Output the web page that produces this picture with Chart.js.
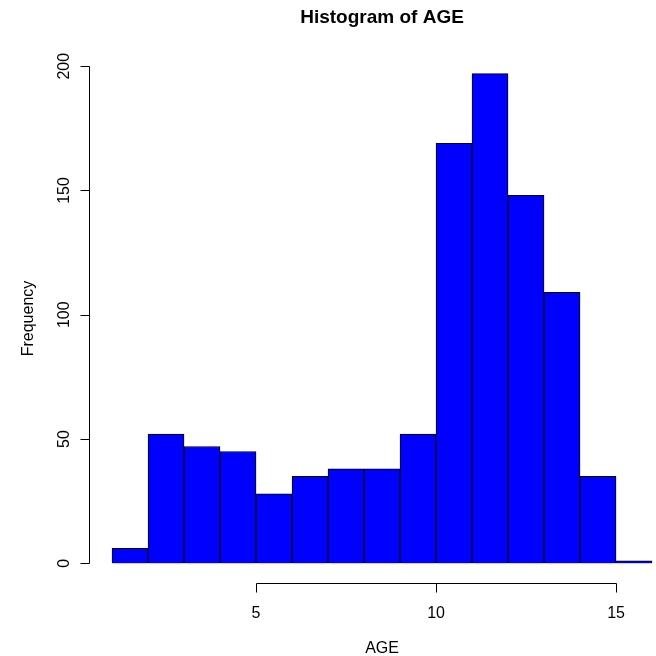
<!DOCTYPE html>
<html lang="en">

<head>
    <meta charset="UTF-8">
    <title>Histogram of AGE</title>
    <style>
        html, body { margin: 0; padding: 0; background: #fff; }
        canvas { display: block; }
    </style>
</head>

<body>
    <canvas id="grafico" width="656" height="656"></canvas>

    <script src="https://cdn.jsdelivr.net/npm/chart.js"></script>
    <script>
        // bins of width 1, from 1 to 16
        const binStarts = [1, 2, 3, 4, 5, 6, 7, 8, 9, 10, 11, 12, 13, 14, 15]
        const counts = [6, 52, 47, 45, 28, 35, 38, 38, 52, 169, 197, 148, 109, 35, 1]
        const xTicks = [5, 10, 15]
        const yTicks = [0, 50, 100, 150, 200]

        const binWidth = 1
        const fonte = '"Liberation Sans", Arial, sans-serif'

        // R-style axes, drawn from the chart's own scales
        const eixosR = {
            id: 'eixosR',
            afterDraw(chart) {
                const ctx = chart.ctx
                const x = chart.scales.x
                const y = chart.scales.y
                const area = chart.chartArea
                ctx.save()
                ctx.strokeStyle = '#000'
                ctx.fillStyle = '#000'
                ctx.lineWidth = 1

                // x axis
                const yLine = Math.round(area.bottom) + 0.5
                const x0 = Math.round(x.getPixelForValue(xTicks[0])) + 0.5
                const x1 = Math.round(x.getPixelForValue(xTicks[xTicks.length - 1])) + 0.5
                ctx.beginPath()
                ctx.moveTo(x0, yLine)
                ctx.lineTo(x1, yLine)
                xTicks.forEach(v => {
                    const px = Math.round(x.getPixelForValue(v)) + 0.5
                    ctx.moveTo(px, yLine)
                    ctx.lineTo(px, yLine + 9)
                })
                ctx.stroke()
                ctx.font = '16px ' + fonte
                ctx.textAlign = 'center'
                ctx.textBaseline = 'middle'
                xTicks.forEach(v => {
                    ctx.fillText(String(v), x.getPixelForValue(v), yLine + 30)
                })

                // y axis
                const xLine = Math.round(area.left) + 0.5
                const y0 = Math.round(y.getPixelForValue(yTicks[0])) + 0.5
                const y1 = Math.round(y.getPixelForValue(yTicks[yTicks.length - 1])) + 0.5
                ctx.beginPath()
                ctx.moveTo(xLine, y0)
                ctx.lineTo(xLine, y1)
                yTicks.forEach(v => {
                    const py = Math.round(y.getPixelForValue(v)) + 0.5
                    ctx.moveTo(xLine, py)
                    ctx.lineTo(xLine - 9, py)
                })
                ctx.stroke()
                yTicks.forEach(v => {
                    ctx.save()
                    ctx.translate(xLine - 25, y.getPixelForValue(v))
                    ctx.rotate(-Math.PI / 2)
                    ctx.fillText(String(v), 0, 0)
                    ctx.restore()
                })

                // axis titles
                const meioX = x.getPixelForValue((binStarts[0] + binStarts[binStarts.length - 1] + binWidth) / 2)
                const meioY = (area.top + area.bottom) / 2
                ctx.fillText('AGE', meioX, yLine + 65)
                ctx.save()
                ctx.translate(29, meioY)
                ctx.rotate(-Math.PI / 2)
                ctx.fillText('Frequency', 0, 0)
                ctx.restore()

                // main title
                ctx.font = 'bold 19px ' + fonte
                ctx.fillText('Histogram of AGE', meioX, 18)
                ctx.restore()
            }
        }

        new Chart(document.getElementById('grafico'), {
            type: 'bar',
            data: {
                datasets: [{
                    data: binStarts.map((b, i) => ({ x: b + binWidth / 2, y: counts[i] })),
                    backgroundColor: '#0000ff',
                    borderColor: '#000000',
                    borderWidth: 1,
                    barPercentage: 1,
                    categoryPercentage: 1
                }]
            },
            options: {
                responsive: false,
                animation: false,
                events: [],
                layout: { padding: { left: 89, right: 0, top: 54, bottom: 73 } },
                plugins: {
                    legend: { display: false },
                    title: { display: false },
                    tooltip: { enabled: false }
                },
                scales: {
                    x: {
                        type: 'linear',
                        offset: false,
                        min: 0.36,
                        max: 16.11,
                        display: false
                    },
                    y: {
                        min: -7.9,
                        max: 204.9,
                        display: false
                    }
                }
            },
            plugins: [eixosR]
        })
    </script>
</body>

</html>
